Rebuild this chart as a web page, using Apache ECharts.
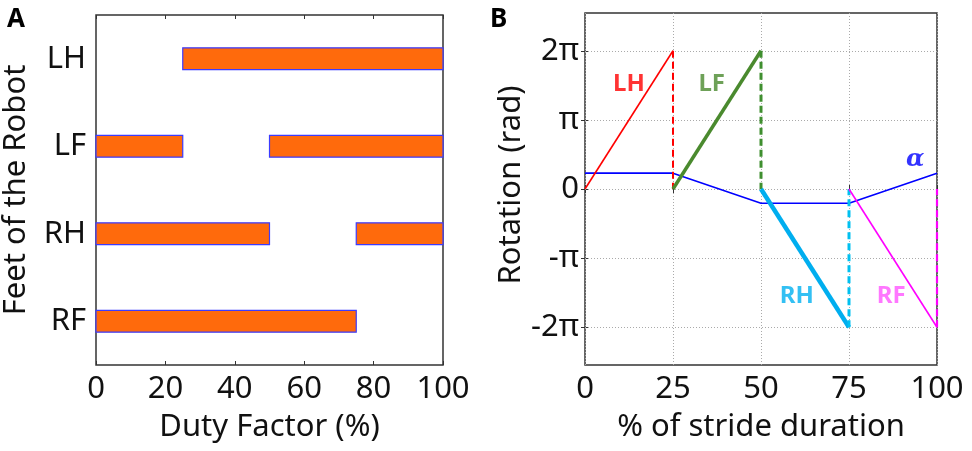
<!DOCTYPE html>
<html>
<head>
<meta charset="utf-8">
<script src="https://cdn.jsdelivr.net/npm/echarts@6/dist/echarts.min.js"></script>
<style>
    html, body { margin: 0; padding: 0; background: #fff; }
    #chart { width: 972px; height: 451px; }
</style>
</head>
<body>
<div id="chart"></div>
<script>
// 面板A：各脚的支撑相（duty factor）
const feet = ['RF', 'RH', 'LF', 'LH'];
const segFoot = ['LH', 'LF', 'LF', 'RH', 'RH', 'RF'];
const segStart = [25, 0, 50, 0, 75, 0];
const segEnd = [100, 25, 100, 50, 100, 75];

// 面板B：旋转角度 (rad)
const PI = Math.PI;
const strideX = [0, 25, 50, 75, 100];
const alphaY = [0.72, 0.72, -0.65, -0.65, 0.72];

const lhX = [0, 25];   const lhY = [0, 2 * PI];
const lhDropX = [25, 25];  const lhDropY = [2 * PI, 0];
const lfX = [25, 50];  const lfY = [0, 2 * PI];
const lfDropX = [50, 50];  const lfDropY = [2 * PI, 0];
const rhX = [50, 75];  const rhY = [0, -2 * PI];
const rhDropX = [75, 75];  const rhDropY = [-2 * PI, 0];
const rfX = [75, 100]; const rfY = [0, -2 * PI];
const rfDropX = [100, 100]; const rfDropY = [-2 * PI, 0];

const rotTicks = [-2 * PI, -PI, 0, PI, 2 * PI];
const rotTickLabels = ['-2π', '-π', '0', 'π', '2π'];

const tagNames = ['LH', 'LF', 'RH', 'RF', 'α'];
const tagX = [12.5, 36, 60.2, 87, 93.8];
const tagY = [4.75, 4.75, -4.85, -4.85, 1.35];

const FONT = 'Noto Sans';
const tagColors = ['#ff0000', '#4a8a2e', '#00b0f0', '#ff55ff', '#0000ff'];

function pairs(xs, ys) {
    return xs.map(function(x, i) { return [x, ys[i]]; });
}

const chart = echarts.init(document.getElementById('chart'));

const labelStyle = { fontFamily: FONT, fontSize: 31, color: '#111' };
const nameStyle = { fontFamily: FONT, fontSize: 31, color: '#111' };

function lineSeries(name, xs, ys, color, width, dashed) {
    return {
        name: name,
        type: 'line',
        xAxisIndex: 2,
        yAxisIndex: 2,
        data: pairs(xs, ys),
        symbol: 'none',
        silent: true,
        lineStyle: { color: color, width: width, type: dashed ? [7, 4] : 'solid' },
        z: 5
    };
}

const option = {
    animation: false,
    backgroundColor: '#fff',
    title: [
        { text: 'A', left: 2, top: 2, textStyle: { fontFamily: FONT, fontSize: 26, fontWeight: 'bold', color: '#000' } },
        { text: 'B', left: 485, top: 2, textStyle: { fontFamily: FONT, fontSize: 26, fontWeight: 'bold', color: '#000' } }
    ],
    grid: [
        { left: 93, top: 15, width: 350, height: 350, show: true, borderColor: '#333', borderWidth: 1.5, backgroundColor: '#fff' },
        { left: 585, top: 13, width: 352, height: 352, show: true, borderColor: '#333', borderWidth: 1.5, backgroundColor: '#fff' }
    ],
    xAxis: [
        {
            gridIndex: 0, type: 'value', min: 0, max: 100, interval: 20,
            name: 'Duty Factor (%)', nameLocation: 'middle', nameGap: 47, nameTextStyle: nameStyle,
            axisLine: { show: false },
            axisTick: { show: true, inside: true, length: 4, lineStyle: { color: '#333' } },
            axisLabel: Object.assign({ margin: 9 }, labelStyle),
            splitLine: { show: false }
        },
        {
            gridIndex: 0, type: 'value', min: 0, max: 100, interval: 20, position: 'top',
            axisLine: { show: false },
            axisTick: { show: true, inside: true, length: 4, lineStyle: { color: '#333' } },
            axisLabel: { show: false }, splitLine: { show: false }
        },
        {
            gridIndex: 1, type: 'value', min: 0, max: 100, interval: 25,
            name: '% of stride duration', nameLocation: 'middle', nameGap: 47, nameTextStyle: nameStyle,
            axisLine: { show: false },
            axisTick: { show: true, inside: true, length: 4, lineStyle: { color: '#333' } },
            axisLabel: Object.assign({ margin: 9 }, labelStyle),
            splitLine: { show: true, lineStyle: { color: '#aaa', type: [1, 2], width: 1 } }
        },
        {
            gridIndex: 1, type: 'value', min: 0, max: 100, interval: 25, position: 'top',
            axisLine: { show: false },
            axisTick: { show: true, inside: true, length: 4, lineStyle: { color: '#333' } },
            axisLabel: { show: false }, splitLine: { show: false }
        }
    ],
    yAxis: [
        {
            gridIndex: 0, type: 'category', data: feet,
            name: 'Feet of the Robot', nameLocation: 'middle', nameGap: 64,
            nameTextStyle: nameStyle,
            axisLine: { show: false }, axisTick: { show: false },
            axisLabel: Object.assign({ margin: 10 }, labelStyle),
            splitLine: { show: false }
        },
        {
            gridIndex: 0, type: 'value', position: 'right', min: 0, max: 1,
            axisLine: { show: false }, axisTick: { show: false },
            axisLabel: { show: false }, splitLine: { show: false }
        },
        {
            gridIndex: 1, type: 'value', min: -8, max: 8,
            name: 'Rotation (rad)', nameLocation: 'middle', nameGap: 50,
            nameTextStyle: Object.assign({ padding: [0, 0, 0, 8] }, nameStyle),
            axisLine: { show: false },
            axisTick: { show: true, inside: true, length: 4, customValues: rotTicks, lineStyle: { color: '#333' } },
            axisLabel: Object.assign({
                margin: 6,
                customValues: rotTicks,
                formatter: function(v) {
                    const i = rotTicks.findIndex(function(t) { return Math.abs(t - v) < 1e-6; });
                    return i >= 0 ? rotTickLabels[i] : '';
                }
            }, labelStyle),
            splitLine: { show: false }
        },
        {
            gridIndex: 1, type: 'value', min: -8, max: 8, position: 'right',
            axisLine: { show: false },
            axisTick: { show: true, inside: true, length: 4, customValues: rotTicks, lineStyle: { color: '#333' } },
            axisLabel: { show: false }, splitLine: { show: false }
        }
    ],
    series: [
        {
            name: 'stance',
            type: 'custom',
            xAxisIndex: 0,
            yAxisIndex: 0,
            silent: true,
            data: segFoot.map(function(f, i) { return [feet.indexOf(f), segStart[i], segEnd[i]]; }),
            encode: { x: [1, 2], y: 0 },
            renderItem: function(params, api) {
                const cat = api.value(0);
                const p0 = api.coord([api.value(1), cat]);
                const p1 = api.coord([api.value(2), cat]);
                const h = api.size([0, 1])[1] * 0.25;
                return {
                    type: 'rect',
                    shape: { x: p0[0], y: p0[1] - h / 2, width: p1[0] - p0[0], height: h },
                    style: { fill: '#ff6a0c', stroke: '#3b3bff', lineWidth: 1.2 }
                };
            }
        },
        {
            // 横向点状网格线
            name: 'hgrid',
            type: 'line',
            xAxisIndex: 2,
            yAxisIndex: 2,
            data: [],
            silent: true,
            markLine: {
                symbol: 'none',
                silent: true,
                label: { show: false },
                lineStyle: { color: '#aaa', type: [1, 2], width: 1 },
                data: rotTicks.map(function(v) { return { yAxis: v }; })
            },
            z: 1
        },
        lineSeries('alpha', strideX, alphaY, '#0000ff', 1.6, false),
        lineSeries('LH', lhX, lhY, '#ff0000', 1.6, false),
        lineSeries('LH drop', lhDropX, lhDropY, '#ff0000', 2, true),
        lineSeries('LF', lfX, lfY, '#4a8a2e', 3.5, false),
        lineSeries('LF drop', lfDropX, lfDropY, '#3f8f2f', 3, true),
        lineSeries('RH', rhX, rhY, '#00aeef', 4.5, false),
        lineSeries('RH drop', rhDropX, rhDropY, '#00c0f0', 3, true),
        lineSeries('RF', rfX, rfY, '#ff00ff', 1.6, false),
        lineSeries('RF drop', rfDropX, rfDropY, '#ff00ff', 2.2, true),
        {
            name: 'tags',
            type: 'scatter',
            xAxisIndex: 2,
            yAxisIndex: 2,
            symbolSize: 0,
            silent: true,
            data: tagNames.map(function(n, i) {
                return {
                    name: n,
                    value: [tagX[i], tagY[i]],
                    label: {
                        color: tagColors[i],
                        fontFamily: n === 'α' ? 'DejaVu Serif' : FONT,
                        fontStyle: n === 'α' ? 'italic' : 'normal'
                    }
                };
            }),
            label: {
                show: true,
                position: 'inside',
                formatter: '{b}',
                fontSize: 24,
                fontWeight: 'bold'
            },
            z: 10
        }
    ]
};

chart.setOption(option);
</script>
</body>
</html>
